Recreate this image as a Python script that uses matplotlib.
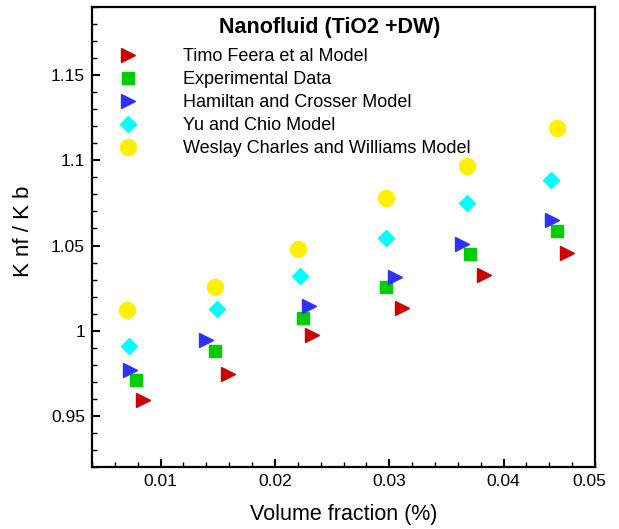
import matplotlib
matplotlib.use("Agg")
import matplotlib.pyplot as plt
from matplotlib.ticker import MultipleLocator

plt.rcParams['font.family'] = ['Liberation Sans', 'DejaVu Sans']

# Data
timo_x = [0.00845, 0.01594, 0.02322, 0.03113, 0.03831, 0.04552]
timo_y = [0.9591, 0.9748, 0.9972, 1.0135, 1.0329, 1.0454]

exp_x = [0.00786, 0.01473, 0.02243, 0.02974, 0.03706, 0.04466]
exp_y = [0.9712, 0.9879, 1.0077, 1.0258, 1.0448, 1.0585]

ham_x = [0.00731, 0.01394, 0.02301, 0.03050, 0.03637, 0.04424]
ham_y = [0.9770, 0.9948, 1.0147, 1.0317, 1.0506, 1.0649]

yu_x = [0.00720, 0.01494, 0.02222, 0.02971, 0.03682, 0.04414]
yu_y = [0.9909, 1.0125, 1.0319, 1.0546, 1.0752, 1.0885]

wes_x = [0.00703, 0.01480, 0.02205, 0.02971, 0.03682, 0.04466]
wes_y = [1.0123, 1.0254, 1.0478, 1.0780, 1.0964, 1.1188]

labels = ["Timo Feera et al Model", "Experimental Data", "Hamiltan and Crosser Model",
          "Yu and Chio Model", "Weslay Charles and Williams Model"]
title = "Nanofluid (TiO2 +DW)"
xticks = [0.01, 0.02, 0.03, 0.04]
xticklabels = ["0.01", "0.02", "0.03", "0.04"]
x_end_label = "0.05"
yticks = [0.95, 1.0, 1.05, 1.1, 1.15]
yticklabels = ["0.95", "1", "1.05", "1.1", "1.15"]

fig = plt.figure(figsize=(6.19, 5.29), dpi=100)
ax = fig.add_axes([92/619, 1-467/529, (595-92)/619, (467-7)/529])

ax.plot(timo_x, timo_y, ls='none', marker='>', ms=10, color='#CC0000', mec='#CC0000', label=labels[0])
ax.plot(exp_x, exp_y, ls='none', marker='s', ms=9, color='#00CC00', mec='#00CC00', label=labels[1])
ax.plot(ham_x, ham_y, ls='none', marker='>', ms=10, color='#3030FF', mec='#3030FF', label=labels[2])
ax.plot(yu_x, yu_y, ls='none', marker='D', ms=8.3, color='#00FFFF', mec='#00FFFF', label=labels[3])
ax.plot(wes_x, wes_y, ls='none', marker='o', ms=11.5, color='#FFF000', mec='#FFF000', label=labels[4])

ax.set_xlim(0.004, 0.048)
ax.set_ylim(0.92, 1.19)
ax.set_xticks(xticks)
ax.set_xticklabels(xticklabels)
ax.set_yticks(yticks)
ax.set_yticklabels(yticklabels)
ax.xaxis.set_minor_locator(MultipleLocator(0.002))
ax.yaxis.set_minor_locator(MultipleLocator(0.01))
ax.tick_params(which='major', direction='in', length=6, width=1.5, labelsize=12.5, pad=5,
               top=False, right=False)
ax.tick_params(which='minor', direction='in', length=3.8, width=1.0, top=False, right=False)
for s in ax.spines.values():
    s.set_linewidth(1.6)

# Tecplot-style end label at the right edge of the x axis
ax.annotate(x_end_label, xy=((589-92)/503, 0), xycoords='axes fraction',
            xytext=(0, -5), textcoords='offset points', ha='center', va='top', fontsize=12.5)

ax.set_xlabel("Volume fraction (%)", fontsize=15.5, labelpad=11)
ax.set_ylabel("K nf / K b", fontsize=16)
ax.yaxis.set_label_coords((34-92)/503, 1-(231-7)/460)

ax.text((330-92)/503, 1-(28-7)/460, title, transform=ax.transAxes, ha='center', va='center',
        fontsize=15.5, fontweight='bold')

leg = ax.legend(loc='upper left', bbox_to_anchor=((110-92)/503, 1-(48-7)/460),
                frameon=False, fontsize=13, handlelength=2.0, handletextpad=2.05,
                labelspacing=0.33, borderpad=0, borderaxespad=0, markerscale=1.0)

fig.savefig("out.png", dpi=100)
